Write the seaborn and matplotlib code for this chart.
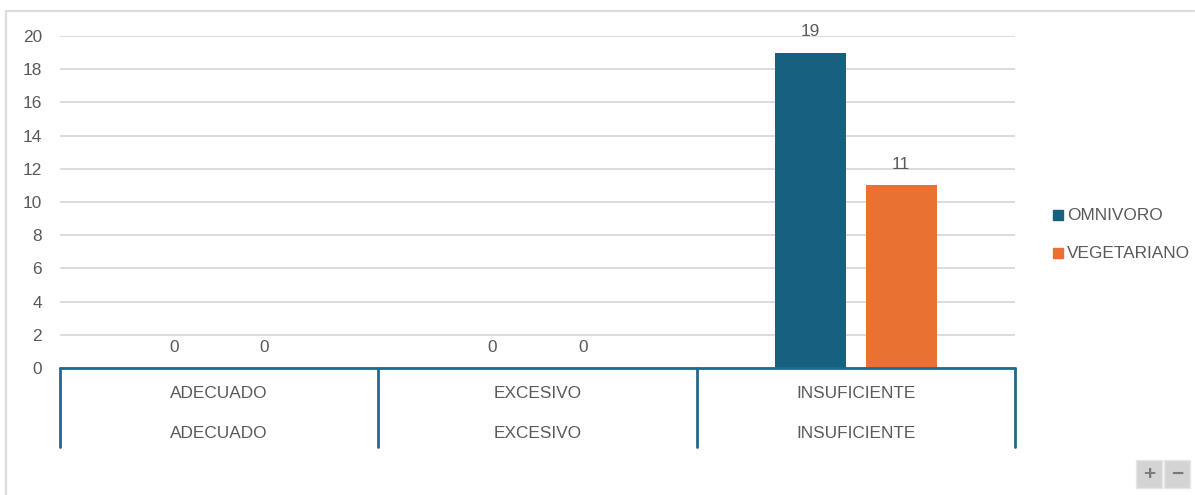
import matplotlib
matplotlib.use("Agg")
import matplotlib.pyplot as plt
from matplotlib.patches import Rectangle
from matplotlib.lines import Line2D
import seaborn as sns
import pandas as pd

categories = ["ADECUADO", "EXCESIVO", "INSUFICIENTE"]
series_names = ["OMNIVORO", "VEGETARIANO"]
omnivoro = [0, 0, 19]
vegetariano = [0, 0, 11]
y_ticks = [0, 2, 4, 6, 8, 10, 12, 14, 16, 18, 20]

colors = ["#17607f", "#e97132"]
text_color = "#595959"
axis_blue = "#1f6a8a"
grid_color = "#d9d9d9"
fs = 12.4

df = pd.DataFrame({
    "categoria": categories * 2,
    "grupo": [series_names[0]] * 3 + [series_names[1]] * 3,
    "valor": omnivoro + vegetariano,
})

sns.set_theme(style="white")
plt.rcParams["font.family"] = ["Liberation Sans", "DejaVu Sans"]

W, H = 1195, 495
fig = plt.figure(figsize=(W / 100, H / 100), dpi=100)

def fx(px):
    return px / W

def fy(py):
    return 1 - py / H

# plot area in pixel coordinates
left, right, top, bottom = 60, 1015, 36, 368
ax = fig.add_axes([fx(left), fy(bottom), fx(right) - fx(left), fy(top) - fy(bottom)])

sns.barplot(data=df, x="categoria", y="valor", hue="grupo", order=categories,
            hue_order=series_names, palette=colors, width=0.568, gap=0.215,
            saturation=1, linewidth=0, ax=ax, legend=False)

ax.set_xlim(-0.5, len(categories) - 0.5)
ax.set_ylim(0, 20)
ax.set_yticks(y_ticks)
ax.set_yticklabels([str(t) for t in y_ticks], color=text_color, fontsize=fs)
ax.tick_params(axis="y", length=0, pad=13)
ax.set_xticks([])
ax.set_xlabel("")
ax.set_ylabel("")
for s in ax.spines.values():
    s.set_visible(False)
ax.yaxis.grid(True, color=grid_color, linewidth=1.3)
ax.set_axisbelow(True)

# value labels above each bar
for cont in ax.containers:
    for bar in cont:
        v = bar.get_height()
        ax.annotate(f"{v:g}", (bar.get_x() + bar.get_width() / 2, v),
                    xytext=(0, 15), textcoords="offset points",
                    ha="center", va="center", color=text_color, fontsize=fs)

# two-level category axis drawn beneath the plot
ax.axhline(0, color=axis_blue, linewidth=2, zorder=5, clip_on=False)
trans = ax.get_xaxis_transform()
depth = (447 - bottom) / (bottom - top)
for b in [-0.5, 0.5, 1.5, 2.5]:
    ax.add_line(Line2D([b, b], [0, -depth], transform=trans, color=axis_blue,
                       linewidth=2, clip_on=False))
row1 = -(393 - bottom) / (bottom - top)
row2 = -(433 - bottom) / (bottom - top)
for i, c in enumerate(categories):
    for r in (row1, row2):
        ax.text(i, r, c, transform=trans, ha="center", va="center",
                color=text_color, fontsize=fs)

# legend
for i, (name, col) in enumerate(zip(series_names, colors)):
    ly = 215 + i * 38
    fig.patches.append(Rectangle((fx(1053), fy(ly + 5)), fx(10), 10 / H,
                                 transform=fig.transFigure, color=col))
    fig.text(fx(1067), fy(ly), name, ha="left", va="center",
             color=text_color, fontsize=fs)

# outer frame
fig.add_artist(Line2D([fx(6), fx(1194)], [fy(11), fy(11)], color="#dcdcdc",
                      linewidth=1.6, transform=fig.transFigure))
fig.add_artist(Line2D([fx(6), fx(6)], [fy(11), fy(495)], color="#dcdcdc",
                      linewidth=1.6, transform=fig.transFigure))

# zoom buttons
for x0, sym in [(1136, "+"), (1164, "\u2212")]:
    fig.patches.append(Rectangle((fx(x0), fy(488)), fx(26), 28 / H,
                                 transform=fig.transFigure, facecolor="#d4d4d4",
                                 edgecolor="#e6e6e6", linewidth=1))
    fig.text(fx(x0 + 13), fy(474), sym, ha="center", va="center",
             color="#7a7a7a", fontsize=15, fontweight="bold")

fig.savefig("out.png", dpi=100)
